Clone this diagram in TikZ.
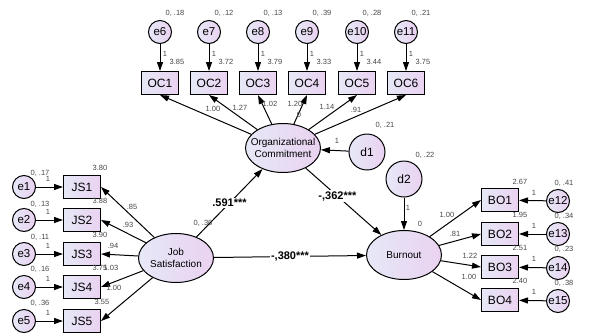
\documentclass[tikz,border=0pt]{standalone}
\usepackage{fontspec}
\setmainfont{Liberation Sans}
\usetikzlibrary{arrows.meta, shapes.geometric}
\definecolor{lvleft}{RGB}{230,232,247}
\definecolor{lvright}{RGB}{234,210,241}
\definecolor{lblgray}{RGB}{70,70,70}

\begin{document}
\begin{tikzpicture}[x=1pt, y=-1pt,
			obs/.style={rectangle, draw, line width=1pt, minimum width=37pt, minimum height=23pt,
					inner sep=0pt, left color=lvleft, right color=lvright, font=\fontsize{12}{13}\selectfont},
			err/.style={circle, draw, line width=1pt, minimum size=23pt, inner sep=0pt,
					left color=lvleft, right color=lvright, font=\fontsize{11.5}{13}\selectfont},
			dist/.style={err, minimum size=36pt, font=\fontsize{12}{13}\selectfont},
			latent/.style={ellipse, draw, line width=1pt, minimum width=75pt, minimum height=49pt,
					inner xsep=-8pt, inner ysep=0pt, align=center, left color=lvleft, right color=lvright,
					font=\fontsize{10}{12}\selectfont},
			lbl/.style={font=\fontsize{7.5}{8}\selectfont, text=lblgray, inner sep=0pt},
			coef/.style={font=\bfseries\fontsize{11}{12}\selectfont, fill=white, inner sep=1pt},
			link/.style={line width=1pt, -{Triangle[length=9pt, width=6pt]}},
		]
		\useasboundingbox (0,0) rectangle (590,333);

		% latent variables and disturbances
		\node (jobsat)  [latent] at (176,258) {Job\\Satisfaction};
		\node (orgcom)  [latent] at (283,148) {Organizational\\Commitment};
		\node (burnout) [latent] at (404,255) {Burnout};
		\node (d1) [dist] at (367,152) {d1};
		\node (d2) [dist] at (404,179) {d2};

		% Organizational Commitment indicators
		\node (oc1) [obs] at (160,83) {OC1};
		\node (oc2) [obs] at (209,83) {OC2};
		\node (oc3) [obs] at (258,83) {OC3};
		\node (oc4) [obs] at (307,83) {OC4};
		\node (oc5) [obs] at (357,83) {OC5};
		\node (oc6) [obs] at (406,83) {OC6};
		\node (e6)  [err] at (160,32) {e6};
		\node (e7)  [err] at (209,32) {e7};
		\node (e8)  [err] at (258,32) {e8};
		\node (e9)  [err] at (307,32) {e9};
		\node (e10) [err] at (357,32) {e10};
		\node (e11) [err] at (406,32) {e11};

		% Job Satisfaction indicators
		\node (js1) [obs] at (82,187) {JS1};
		\node (js2) [obs] at (82,220) {JS2};
		\node (js3) [obs] at (82,254) {JS3};
		\node (js4) [obs] at (82,287) {JS4};
		\node (js5) [obs] at (82,321) {JS5};
		\node (e1) [err] at (24,187) {e1};
		\node (e2) [err] at (24,220) {e2};
		\node (e3) [err] at (24,254) {e3};
		\node (e4) [err] at (24,287) {e4};
		\node (e5) [err] at (24,321) {e5};

		% Burnout indicators
		\node (bo1) [obs] at (500,200) {BO1};
		\node (bo2) [obs] at (500,234) {BO2};
		\node (bo3) [obs] at (500,267) {BO3};
		\node (bo4) [obs] at (500,300) {BO4};
		\node (e12) [err] at (558,201) {e12};
		\node (e13) [err] at (558,234) {e13};
		\node (e14) [err] at (558,268) {e14};
		\node (e15) [err] at (558,301) {e15};

		% error -> indicator paths
		\draw [link] (e6) -- (oc1);
		\draw [link] (e7) -- (oc2);
		\draw [link] (e8) -- (oc3);
		\draw [link] (e9) -- (oc4);
		\draw [link] (e10) -- (oc5);
		\draw [link] (e11) -- (oc6);
		\draw [link] (e1) -- (js1);
		\draw [link] (e2) -- (js2);
		\draw [link] (e3) -- (js3);
		\draw [link] (e4) -- (js4);
		\draw [link] (e5) -- (js5);
		\draw [link] (e12) -- (bo1);
		\draw [link] (e13) -- (bo2);
		\draw [link] (e14) -- (bo3);
		\draw [link] (e15) -- (bo4);

		% latent -> indicator paths
		\draw [link] (orgcom) -- (oc1.south);
		\draw [link] (orgcom) -- (oc2.south);
		\draw [link] (orgcom) -- (oc3.south);
		\draw [link] (orgcom) -- (oc4.south);
		\draw [link] (orgcom) -- (oc5.south);
		\draw [link] (orgcom) -- (oc6.south);
		\draw [link] (jobsat) -- (js1.east);
		\draw [link] (jobsat) -- (js2.east);
		\draw [link] (jobsat) -- (js3.east);
		\draw [link] (jobsat) -- (js4.east);
		\draw [link] (jobsat) -- (js5.east);
		\draw [link] (burnout) -- (bo1.west);
		\draw [link] (burnout) -- (bo2.west);
		\draw [link] (burnout) -- (bo3.west);
		\draw [link] (burnout) -- (bo4.west);

		% structural paths
		\draw [link] (d1) -- (orgcom);
		\draw [link] (d2) -- (burnout);
		\draw [link] (jobsat) -- node[coef, pos=0.5]{.591***} (orgcom);
		\draw [link] (orgcom) -- node[coef, pos=0.42]{-,362***} (burnout);
		\draw [link] (jobsat) -- node[coef, pos=0.5]{-,380***} (burnout);

		% variances
		\node (ve6)  [lbl] at (175,13) {0, .18};
		\node (ve7)  [lbl] at (224,13) {0, .12};
		\node (ve8)  [lbl] at (273,13) {0, .13};
		\node (ve9)  [lbl] at (322,13) {0, .39};
		\node (ve10) [lbl] at (372,13) {0, .28};
		\node (ve11) [lbl] at (421,13) {0, .21};
		\node (ve1) [lbl] at (40,173) {0, .17};
		\node (ve2) [lbl] at (40,204) {0, .13};
		\node (ve3) [lbl] at (40,237) {0, .11};
		\node (ve4) [lbl] at (40,269) {0, .16};
		\node (ve5) [lbl] at (40,303) {0, .36};
		\node (ve12) [lbl] at (564,183) {0, .41};
		\node (ve13) [lbl] at (564,216) {0, .34};
		\node (ve14) [lbl] at (564,249) {0, .23};
		\node (ve15) [lbl] at (564,283) {0, .38};
		\node (vjs) [lbl] at (203,223) {0, .36};
		\node (vd1) [lbl] at (385,125) {0, .21};
		\node (vd2) [lbl] at (425,155) {0, .22};

		% fixed weights
		\node (we6)  [lbl] at (165,54) {1};
		\node (we7)  [lbl] at (214,54) {1};
		\node (we8)  [lbl] at (263,54) {1};
		\node (we9)  [lbl] at (312,54) {1};
		\node (we10) [lbl] at (362,54) {1};
		\node (we11) [lbl] at (411,54) {1};
		\node (we1) [lbl] at (48,179) {1};
		\node (we2) [lbl] at (48,212) {1};
		\node (we3) [lbl] at (48,246) {1};
		\node (we4) [lbl] at (48,279) {1};
		\node (we5) [lbl] at (48,313) {1};
		\node (we12) [lbl] at (534,193) {1};
		\node (we13) [lbl] at (534,226) {1};
		\node (we14) [lbl] at (534,259) {1};
		\node (we15) [lbl] at (534,292) {1};
		\node (wd1) [lbl] at (337,141) {1};
		\node (wd2) [lbl] at (408,208) {1};

		% intercepts
		\node (ioc1) [lbl] at (177,62) {3.85};
		\node (ioc2) [lbl] at (226,62) {3.72};
		\node (ioc3) [lbl] at (275,62) {3.79};
		\node (ioc4) [lbl] at (324,62) {3.33};
		\node (ioc5) [lbl] at (374,62) {3.44};
		\node (ioc6) [lbl] at (423,62) {3.75};
		\node (ijs1) [lbl] at (100,168) {3.80};
		\node (ijs2) [lbl] at (100,201) {3.88};
		\node (ijs3) [lbl] at (100,235) {3.90};
		\node (ijs4) [lbl] at (100,268) {3.75};
		\node (ijs5) [lbl] at (102,302) {3.55};
		\node (ibo1) [lbl] at (520,182) {2.67};
		\node (ibo2) [lbl] at (520,215) {1.95};
		\node (ibo3) [lbl] at (520,248) {2.51};
		\node (ibo4) [lbl] at (520,281) {2.40};
		\node (iorg) [lbl] at (299,115) {0};
		\node (ibur) [lbl] at (420,224) {0};

		% loadings
		\node (loc1) [lbl] at (213,109) {1.00};
		\node (loc2) [lbl] at (240,108) {1.27};
		\node (loc3) [lbl] at (270,104) {1.02};
		\node (loc4) [lbl] at (295,104) {1.20};
		\node (loc5) [lbl] at (327,107) {1.14};
		\node (loc6) [lbl] at (356,110) {.91};
		\node (ljs1) [lbl] at (132,207) {.85};
		\node (ljs2) [lbl] at (128,225) {.93};
		\node (ljs3) [lbl] at (113,246) {.94};
		\node (ljs4) [lbl] at (111,268) {1.03};
		\node (ljs5) [lbl] at (114,288) {1.00};
		\node (lbo1) [lbl] at (447,215) {1.00};
		\node (lbo2) [lbl] at (455,234) {.81};
		\node (lbo3) [lbl] at (470,256) {1.22};
		\node (lbo4) [lbl] at (469,277) {1.00};
	\end{tikzpicture}
\end{document}
